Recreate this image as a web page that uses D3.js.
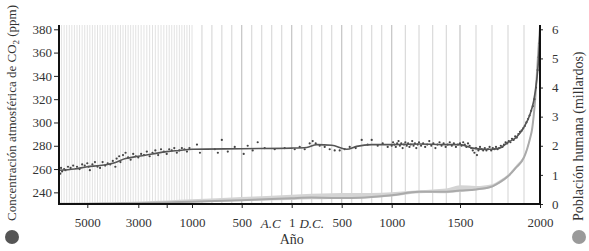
<!DOCTYPE html>
<html>
<head>
<meta charset="utf-8">
<script src="https://cdn.jsdelivr.net/npm/d3@7"></script>
<style>
  body { margin: 0; background: #fff; }
  svg text { font-family: "Liberation Serif", "Times New Roman", serif; fill: #333; }
  .axis path { display: none; }
  .axis line { stroke: #222; }
</style>
</head>
<body>
<div id="chart"></div>
<script>

// ---- DATA ----
// x axis: year breaks of the piecewise time scale
let yearBreaks = [-6100, -5000, -3000, -2000, -1000, -500, 0, 500, 1000, 1500, 2000];
let xTickYears = [-5000, -3000, -2000, -1000, -500, 0, 500, 1000, 1500, 2000];
let xTickLabels = ["5000", "3000", "", "1000", "500", "1", "500", "1000", "1500", "2000"];
let eraLabels = [{label: "A.C", year: -210}, {label: "D.C.", year: 200}];

let co2Ticks = [240, 260, 280, 300, 320, 340, 360, 380];
let popTicks = [0, 1, 2, 3, 4, 5, 6];

// CO2 smoothed curve
let co2LineYears = [-6100, -5500, -5000, -4500, -4000, -3500, -3000, -2500, -2000, -1500, -1000, -500, 0, 150, 250, 400, 550, 650, 800, 1000, 1200, 1400, 1500, 1580, 1650, 1700, 1750, 1800, 1850, 1900, 1940, 1960, 1980, 1990, 2000];
let co2LineValues = [259, 260, 262, 263, 265, 269, 271, 273, 275, 276, 277, 277.5, 278, 278.5, 281, 280.5, 277, 279.5, 281, 281, 281.5, 281, 281, 278, 277, 277, 278, 283, 287, 296, 308, 318, 337, 352, 378];

// CO2 measurements (dots)
let co2PointYears = [
  -6050, -6020, -5980, -5900, -5850, -5750, -5650, -5550, -5400, -5300, -5200, -5100, -5000, -4950, -4900,
  -4800, -4700, -4600, -4500, -4400, -4300, -4200, -4100, -4000, -3900, -3850, -3750, -3700, -3600, -3500,
  -3400, -3300, -3200, -3100, -3000, -2900, -2800, -2700, -2600, -2500, -2400, -2300, -2200, -2100, -2000,
  -1900, -1800, -1700, -1600, -1500, -1400, -1300, -1200, -1100,
  -950, -920, -770, -740, -700, -640, -570, -480, -440, -390, -340, -270, -170, -70, 30, 80, 130, 180, 210,
  240, 280, 330, 380, 430, 480, 530, 580, 640, 700, 760, 800, 860, 910, 960,
  1000, 1010, 1020, 1030, 1040, 1050, 1060, 1070, 1080, 1090, 1100, 1110, 1120, 1130, 1140, 1150, 1160,
  1170, 1180, 1190, 1200, 1215, 1230, 1245, 1260, 1275, 1290, 1305, 1320, 1335, 1350, 1365, 1380, 1395,
  1410, 1425, 1440, 1455, 1470, 1485,
  1500, 1510, 1520, 1530, 1540, 1550, 1560, 1570, 1580, 1590, 1600, 1606, 1615, 1625, 1635, 1645, 1655,
  1665, 1675, 1685, 1695, 1705, 1715, 1725, 1735, 1745, 1755, 1765, 1775, 1785, 1795, 1805, 1815, 1825,
  1835, 1845, 1855, 1865, 1875, 1885, 1895, 1905, 1915, 1925, 1935, 1945, 1955, 1965, 1975, 1985, 1992, 1998
];
let co2PointValues = [
  256, 261, 258, 260, 259, 262, 261, 263, 262, 260, 264, 263, 265, 262, 259,
  264, 266, 262, 261, 266, 263, 265, 264, 267, 262, 269, 271, 266, 272, 274,
  270, 268, 273, 271, 270, 273, 272, 275, 271, 274, 276, 272, 277, 275, 273,
  277, 276, 278, 274, 276, 278, 277, 275, 278,
  281, 274, 277, 274, 285, 275, 279, 273, 280, 276, 283, 278, 277, 278, 277, 279, 277, 282, 284,
  282, 280, 279, 277, 276, 276, 277, 279, 278, 285, 281, 285, 280, 282, 279,
  280, 283, 281, 279, 282, 284, 280, 282, 278, 281, 283, 280, 282, 279, 281, 284, 280,
  282, 278, 281, 283, 280, 282, 279, 281, 284, 280, 282, 278, 281, 283, 280, 282, 279,
  281, 283, 280, 282, 279, 281,
  282, 280, 283, 281, 279, 282, 280, 278, 276, 274, 278, 272, 276, 279, 277, 276, 278,
  276, 277, 279, 276, 278, 277, 279, 277, 278, 280, 279, 281, 283, 282, 284, 283, 286,
  285, 288, 287, 290, 292, 293, 295, 297, 300, 303, 306, 310, 314, 320, 330, 345, 356, 368
];

// human population (billions): central line and uncertainty band
let popYears = [-6100, -5000, -4000, -3000, -2000, -1000, -500, 0, 200, 400, 600, 800, 1000, 1200, 1300, 1400, 1500, 1600, 1700, 1750, 1800, 1850, 1900, 1920, 1940, 1950, 1960, 1970, 1980, 1990, 2000];
let popMid = [0.005, 0.01, 0.02, 0.03, 0.05, 0.08, 0.13, 0.2, 0.22, 0.21, 0.21, 0.24, 0.3, 0.42, 0.42, 0.42, 0.46, 0.5, 0.6, 0.75, 0.95, 1.25, 1.6, 1.9, 2.3, 2.55, 3.0, 3.6, 4.4, 5.3, 6.05];
let popLow = [0.002, 0.005, 0.01, 0.02, 0.03, 0.05, 0.1, 0.14, 0.16, 0.17, 0.18, 0.21, 0.26, 0.37, 0.38, 0.37, 0.41, 0.47, 0.57, 0.71, 0.91, 1.2, 1.55, 1.85, 2.25, 2.5, 2.95, 3.55, 4.35, 5.25, 6.0];
let popHigh = [0.03, 0.04, 0.06, 0.09, 0.12, 0.16, 0.24, 0.32, 0.35, 0.37, 0.38, 0.38, 0.4, 0.47, 0.5, 0.53, 0.64, 0.62, 0.68, 0.82, 1.02, 1.32, 1.68, 1.97, 2.37, 2.62, 3.07, 3.67, 4.47, 5.37, 6.1];

// ---- CHART AREA ----
let width = 589, height = 251;
let plotLeft = 59, plotRight = 540, plotTop = 25, plotBottom = 204;

let svg = d3.select("#chart").append("svg")
    .attr("width", width)
    .attr("height", height);

// piecewise linear time scale (compressed before 1000 a.C.)
let x = d3.scaleLinear()
    .domain(yearBreaks)
    .range([plotLeft, 87.3, 138.3, 166.7, 192, 241.7, 291.7, 341.7, 391.7, 460, plotRight]);

let yCO2 = d3.scaleLinear().domain([230, 380]).range([plotBottom, 29.3]);
let yPop = d3.scaleLinear().domain([0, 6]).range([plotBottom, 29.3]);

// vertical grid, one line per century
let gridYears = d3.range(-6000, 2001, 100);
svg.append("g").selectAll("line")
    .data(gridYears)
    .join("line")
    .attr("x1", d => x(d)).attr("x2", d => x(d))
    .attr("y1", plotTop).attr("y2", plotBottom)
    .attr("stroke", d => (d > -1000 && d % 500 === 0) ? "#c4c4c4" : "#dadada")
    .attr("stroke-width", d => d > -1000 ? 1.2 : 0.8);

// ---- POPULATION ----
let popData = popYears.map((yr, i) => ({year: yr, mid: popMid[i], low: popLow[i], high: popHigh[i]}));

svg.append("path")
    .datum(popData)
    .attr("fill", "#d4d4d4")
    .attr("d", d3.area()
        .x(d => x(d.year))
        .y0(d => yPop(d.low))
        .y1(d => yPop(d.high))
        .curve(d3.curveMonotoneX));

svg.append("path")
    .datum(popData)
    .attr("fill", "none")
    .attr("stroke", "#aaaaaa")
    .attr("stroke-width", 2)
    .attr("d", d3.line()
        .x(d => x(d.year))
        .y(d => yPop(d.mid))
        .curve(d3.curveMonotoneX));

// ---- CO2 ----
let co2Points = co2PointYears.map((yr, i) => ({year: yr, ppm: co2PointValues[i]}));
svg.append("g").selectAll("circle")
    .data(co2Points)
    .join("circle")
    .attr("cx", d => x(d.year))
    .attr("cy", d => yCO2(d.ppm))
    .attr("r", 1.1)
    .attr("fill", "#444");

let co2Line = co2LineYears.map((yr, i) => ({year: yr, ppm: co2LineValues[i]}));
svg.append("path")
    .datum(co2Line)
    .attr("fill", "none")
    .attr("stroke", "#555")
    .attr("stroke-width", 1.6)
    .attr("d", d3.line()
        .x(d => x(d.year))
        .y(d => yCO2(d.ppm))
        .curve(d3.curveMonotoneX));

// ---- AXES ----
let xAxis = d3.axisBottom(x)
    .tickValues(xTickYears)
    .tickFormat((d, i) => xTickLabels[i])
    .tickSize(4)
    .tickSizeOuter(0)
    .tickPadding(10);

svg.append("g")
    .attr("class", "axis")
    .attr("transform", "translate(0," + plotBottom + ")")
    .call(xAxis)
    .selectAll("text")
    .style("font-size", "13px");

svg.append("g").selectAll("text.era")
    .data(eraLabels)
    .join("text")
    .attr("x", d => x(d.year))
    .attr("y", 228)
    .attr("text-anchor", "middle")
    .style("font-size", "13px")
    .style("font-style", "italic")
    .text(d => d.label);

svg.append("text")
    .attr("x", x(0))
    .attr("y", 244)
    .attr("text-anchor", "middle")
    .style("font-size", "14px")
    .text("Año");

let yAxisLeft = d3.axisLeft(yCO2)
    .tickValues(co2Ticks)
    .tickSize(5)
    .tickPadding(2);

svg.append("g")
    .attr("class", "axis")
    .attr("transform", "translate(" + plotLeft + ",0)")
    .call(yAxisLeft)
    .selectAll("text")
    .style("font-size", "13px");

let yAxisRight = d3.axisRight(yPop)
    .tickValues(popTicks)
    .tickFormat(d3.format("d"))
    .tickSize(3)
    .tickPadding(9);

svg.append("g")
    .attr("class", "axis")
    .attr("transform", "translate(" + plotRight + ",0)")
    .call(yAxisRight)
    .selectAll("text")
    .style("font-size", "13px");

// heavy axis lines
svg.append("path")
    .attr("d", "M" + plotLeft + "," + plotTop + "V" + plotBottom + "H" + plotRight + "V" + plotTop)
    .attr("fill", "none")
    .attr("stroke", "#111")
    .attr("stroke-width", 2);

// axis titles + legend dots
svg.append("text")
    .attr("transform", "translate(16,221) rotate(-90)")
    .style("font-size", "13px")
    .html("Concentración atmosférica de CO<tspan dy='3' style='font-size:9px'>2</tspan><tspan dy='-3'> (ppm)</tspan>");

svg.append("circle").attr("cx", 12).attr("cy", 237).attr("r", 7).attr("fill", "#555");

svg.append("text")
    .attr("transform", "translate(583,221) rotate(-90)")
    .style("font-size", "14px")
    .text("Población humana (millardos)");

svg.append("circle").attr("cx", 579).attr("cy", 237).attr("r", 7).attr("fill", "#9a9a9a");

</script>
</body>
</html>
